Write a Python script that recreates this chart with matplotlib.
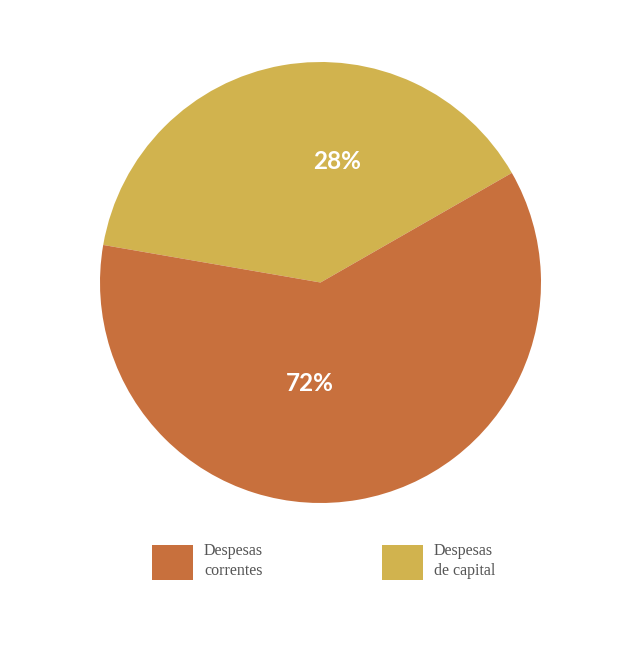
import matplotlib.pyplot as plt

# fatias (na ordem de desenho, anti-horário a partir de startangle)
categorias = ['Despesas\nde capital', 'Despesas\ncorrentes']
fatias = [39.0, 61.0]          # ângulo desenhado na imagem original
rotulos = ['28%', '72%']
cores = ['#D1B34E', '#C8703D']
pos_rotulos = [(0.075, 0.55), (-0.048, -0.46)]

fig = plt.figure(figsize=(6.31, 6.54), dpi=100)
ax = fig.add_axes([100/631, 151/654, 441/631, 441/654])

wedges, _ = ax.pie(fatias, colors=cores, startangle=29.8, counterclock=True,
                   radius=1.0)
ax.set_xlim(-1, 1)
ax.set_ylim(-1, 1)
ax.set_aspect('equal')
ax.axis('off')

for (x, y), r in zip(pos_rotulos, rotulos):
    ax.text(x, y, r, ha='center', va='center', color='white',
            fontsize=17.5, fontweight='bold', family='Lato')

# legenda: correntes primeiro
leg = fig.legend([wedges[1], wedges[0]], [categorias[1], categorias[0]],
                 loc='center left', bbox_to_anchor=(144/631, 1 - 561.5/654),
                 ncol=2, frameon=False, handlelength=2.56, handleheight=2.95,
                 handletextpad=0.69, columnspacing=7.45, borderpad=0,
                 prop={'family': 'Liberation Serif', 'size': 11.5},
                 labelspacing=0)
for t in leg.get_texts():
    t.set_color('#555555')
    t.set_linespacing(1.35)
    t.set_multialignment('left')

fig.savefig('out.png', dpi=100, facecolor='white')
